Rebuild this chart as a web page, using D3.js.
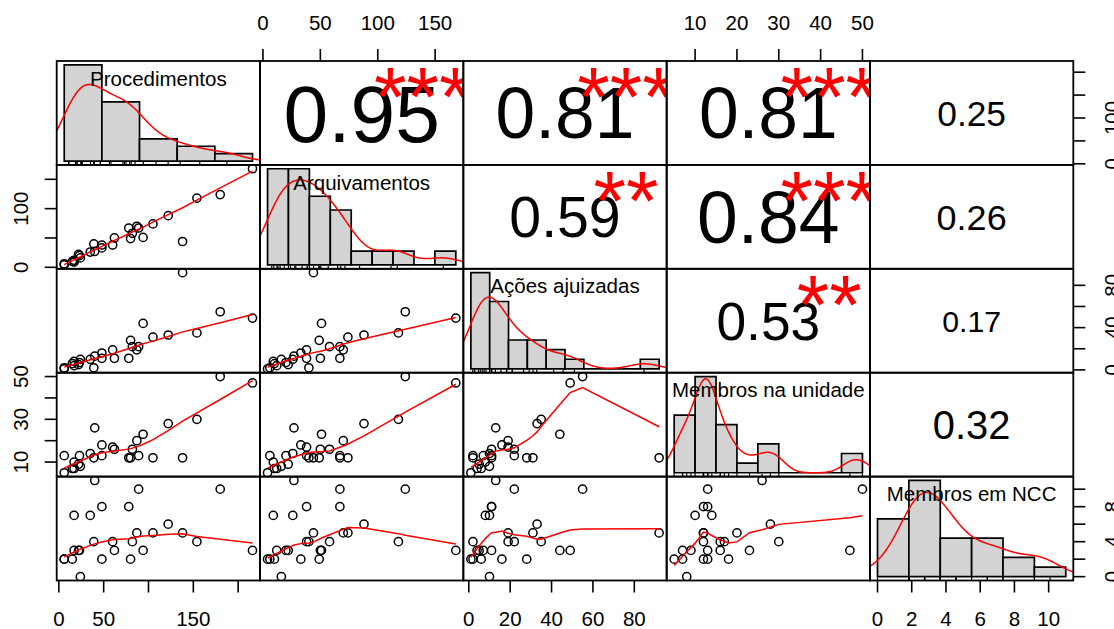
<!DOCTYPE html>
<html>
<head>
<meta charset="utf-8">
<script src="https://cdn.jsdelivr.net/npm/d3@7"></script>
<style>
  body { margin: 0; background: #fff; }
  svg { display: block; }
  text { font-family: "Liberation Sans", Arial, sans-serif; }
</style>
</head>
<body>
<svg id="chart" width="1114" height="629"></svg>
<script>
// ---- data -------------------------------------------------------------
const varNames = ["Procedimentos", "Arquivamentos", "Ações ajuizadas", "Membros na unidade", "Membros em NCC"];

const procedimentos  = [6, 6, 15, 17, 17, 23, 22, 24, 35, 39, 40, 48, 48, 60, 62, 78, 80, 82, 87, 89, 94, 105, 122, 138, 154, 180, 216];
const arquivamentos  = [4, 6, 10, 9, 12, 20, 22, 16, 26, 40, 27, 38, 33, 38, 50, 67, 49, 58, 70, 67, 51, 74, 88, 44, 118, 124, 168];
const acoesAjuizadas = [1, 2, 6, 8, 4, 7, 5, 10, 10, 2, 13, 11, 16, 19, 11, 11, 28, 22, 19, 22, 44, 31, 33, 92, 35, 55, 49];
const membrosUnidade = [5, 13, 7, 10, 7, 13, 9, 8, 14, 12, 26, 13, 18, 17, 16, 12, 12, 16, 20, 13, 23, 12, 28, 12, 30, 50, 47];
const membrosNCC     = [2, 2, 2, 7, 3, 3, 3, 0, 7, 4, 11, 8, 2, 4, 3, 8, 2, 4, 5, 10, 3, 5, 6, 5, 4, 10, 3];

// histogram break points for each variable
const procBreaks    = [0, 50, 100, 150, 200, 250];
const arqBreaks     = [0, 20, 40, 60, 80, 100, 120, 140, 160, 180];
const acoesBreaks   = [0, 10, 20, 30, 40, 50, 60, 70, 80, 90, 100];
const membrosBreaks = [5, 10, 15, 20, 25, 30, 35, 40, 45, 50];
const nccBreaks     = [0, 2, 4, 6, 8, 10, 12];

// correlation coefficients (upper panels) and significance stars
const corPairs = [[0, 1], [0, 2], [0, 3], [0, 4], [1, 2], [1, 3], [1, 4], [2, 3], [2, 4], [3, 4]];
const corR     = [0.95, 0.81, 0.81, 0.25, 0.59, 0.84, 0.26, 0.53, 0.17, 0.32];
const corStars = ["***", "***", "***", "", "**", "***", "", "**", "", ""];

// outer axes: tick values and the labels that are printed
const bottomAxes = [
  { col: 0, ticks: [0, 50, 100, 150, 200], labels: ["0", "50", "", "150", ""] },
  { col: 2, ticks: [0, 20, 40, 60, 80], labels: ["0", "20", "40", "60", "80"] },
  { col: 4, ticks: [0, 2, 4, 6, 8, 10], labels: ["0", "2", "4", "6", "8", "10"] }
];
const topAxes = [
  { col: 1, ticks: [0, 50, 100, 150], labels: ["0", "50", "100", "150"] },
  { col: 3, ticks: [10, 20, 30, 40, 50], labels: ["10", "20", "30", "40", "50"] }
];
const leftAxes = [
  { row: 1, ticks: [0, 50, 100, 150], labels: ["0", "", "100", ""] },
  { row: 3, ticks: [10, 20, 30, 40, 50], labels: ["10", "", "30", "", "50"] }
];
const rightAxes = [
  { row: 0, ticks: [0, 50, 100, 150, 200], labels: ["0", "", "100", "", ""] },
  { row: 2, ticks: [0, 20, 40, 60, 80], labels: ["0", "", "40", "", "80"] },
  { row: 4, ticks: [0, 2, 4, 6, 8, 10], labels: ["0", "", "4", "", "8", ""] }
];

const vars = [procedimentos, arquivamentos, acoesAjuizadas, membrosUnidade, membrosNCC];
const breaks = [procBreaks, arqBreaks, acoesBreaks, membrosBreaks, nccBreaks];

// ---- layout -----------------------------------------------------------
const nv = vars.length;
const gridL = 56.7, gridR = 1073.3, gridT = 61, gridB = 580.5;
const cellW = (gridR - gridL) / nv, cellH = (gridB - gridT) / nv;
const axisFont = 20.5, labelFont = 20.5, tickLen = 12, labelGap = 31;

const svg = d3.select("#chart");
const defs = svg.append("defs");

function padded(ext) { const d = ext[1] - ext[0]; return [ext[0] - 0.04 * d, ext[1] + 0.04 * d]; }

const xScales = vars.map((v, j) => d3.scaleLinear().domain(padded(d3.extent(v))).range([gridL + j * cellW, gridL + (j + 1) * cellW]));
const yScales = vars.map((v, i) => d3.scaleLinear().domain(padded(d3.extent(v))).range([gridT + (i + 1) * cellH, gridT + i * cellH]));

// ---- helpers: lowess smoother and gaussian kernel density --------------
function lowess(xIn, yIn, f = 2 / 3, iter = 3) {
  const order = d3.range(xIn.length).sort((a, b) => xIn[a] - xIn[b] || a - b);
  const n = order.length;
  const x = [0].concat(order.map(k => xIn[k]));
  const y = [0].concat(order.map(k => yIn[k]));
  const ys = new Array(n + 1).fill(0), rw = new Array(n + 1).fill(0), w = new Array(n + 1).fill(0);
  const delta = 0.01 * (x[n] - x[1]);
  const ns = Math.max(2, Math.min(n, Math.floor(f * n + 1e-7)));
  const range = x[n] - x[1];

  function lowest(xs, nleft, nright, userw) {
    const h = Math.max(xs - x[nleft], x[nright] - xs);
    const h9 = 0.999 * h, h1 = 0.001 * h;
    let a = 0, j = nleft;
    while (j <= n) {
      w[j] = 0;
      const r = Math.abs(x[j] - xs);
      if (r <= h9) {
        w[j] = r <= h1 ? 1 : Math.pow(1 - Math.pow(r / h, 3), 3);
        if (userw) w[j] *= rw[j];
        a += w[j];
      } else if (x[j] > xs) break;
      j++;
    }
    const nrt = j - 1;
    if (a <= 0) return null;
    for (j = nleft; j <= nrt; j++) w[j] /= a;
    if (h > 0) {
      a = 0;
      for (j = nleft; j <= nrt; j++) a += w[j] * x[j];
      let b = xs - a, c = 0;
      for (j = nleft; j <= nrt; j++) c += w[j] * (x[j] - a) * (x[j] - a);
      if (Math.sqrt(c) > 0.001 * range) {
        b /= c;
        for (j = nleft; j <= nrt; j++) w[j] *= (b * (x[j] - a) + 1);
      }
    }
    let s = 0;
    for (j = nleft; j <= nrt; j++) s += w[j] * y[j];
    return s;
  }

  let iiter = 1;
  while (iiter <= iter + 1) {
    let nleft = 1, nright = ns, last = 0, i = 1;
    for (;;) {
      if (nright < n) {
        const d1 = x[i] - x[nleft], d2 = x[nright + 1] - x[i];
        if (d1 > d2) { nleft++; nright++; continue; }
      }
      const v = lowest(x[i], nleft, nright, iiter > 1);
      ys[i] = v === null ? y[i] : v;
      if (last < i - 1) {
        const denom = x[i] - x[last];
        for (let j = last + 1; j < i; j++) {
          const alpha = (x[j] - x[last]) / denom;
          ys[j] = alpha * ys[i] + (1 - alpha) * ys[last];
        }
      }
      last = i;
      const cut = x[last] + delta;
      for (i = last + 1; i <= n; i++) {
        if (x[i] > cut) break;
        if (x[i] === x[last]) { ys[i] = ys[last]; last = i; }
      }
      i = Math.max(last + 1, i - 1);
      if (last >= n) break;
    }
    const res = d3.range(1, n + 1).map(k => y[k] - ys[k]);
    const sc = d3.sum(res, Math.abs) / n;
    if (iiter > iter) break;
    const absr = res.map(Math.abs);
    const srt = absr.slice().sort((a, b) => a - b);
    const m1 = Math.floor(n / 2);
    const cmad = n % 2 === 0 ? 3 * (srt[m1] + srt[m1 - 1]) : 6 * srt[m1];
    if (cmad < 1e-7 * sc) break;
    const c9 = 0.999 * cmad, c1 = 0.001 * cmad;
    for (let k = 1; k <= n; k++) {
      const r = absr[k - 1];
      rw[k] = r <= c1 ? 1 : (r <= c9 ? Math.pow(1 - Math.pow(r / cmad, 2), 2) : 0);
    }
    iiter++;
  }
  return d3.range(1, n + 1).map(k => [x[k], ys[k]]);
}

function kde(values) {
  const n = values.length;
  const srt = values.slice().sort((a, b) => a - b);
  const sd = d3.deviation(values);
  const iqr = d3.quantileSorted(srt, 0.75) - d3.quantileSorted(srt, 0.25);
  let lo = Math.min(sd, iqr / 1.34);
  if (!lo) lo = sd || Math.abs(srt[0]) || 1;
  const bw = 0.9 * lo * Math.pow(n, -0.2);
  const from = srt[0] - 3 * bw, to = srt[n - 1] + 3 * bw;
  const k0 = 1 / (n * bw * Math.sqrt(2 * Math.PI));
  return d3.range(512).map(k => {
    const xv = from + k * (to - from) / 511;
    return [xv, k0 * d3.sum(values, v => Math.exp(-0.5 * ((xv - v) / bw) ** 2))];
  });
}

// ---- panels -------------------------------------------------------------
const panels = svg.append("g");

for (let i = 0; i < nv; i++) {
  for (let j = 0; j < nv; j++) {
    const x0 = gridL + j * cellW, y0 = gridT + i * cellH;
    const clipId = `clip-${i}-${j}`;
    defs.append("clipPath").attr("id", clipId)
      .append("rect").attr("x", x0).attr("y", y0).attr("width", cellW).attr("height", cellH);
    const g = panels.append("g").attr("clip-path", `url(#${clipId})`);

    if (i > j) {
      // lower panel: scatter with lowess smoother
      const xs = xScales[j], ysc = yScales[i];
      const pts = vars[j].map((v, k) => [v, vars[i][k]]);
      g.selectAll("circle").data(pts).join("circle")
        .attr("cx", d => xs(d[0])).attr("cy", d => ysc(d[1])).attr("r", 4.1)
        .attr("fill", "none").attr("stroke", "#000").attr("stroke-width", 1.5);
      const sm = lowess(vars[j], vars[i]);
      g.append("path").datum(sm)
        .attr("d", d3.line().x(d => xs(d[0])).y(d => ysc(d[1])))
        .attr("fill", "none").attr("stroke", "#ff0000").attr("stroke-width", 1.5);
    } else if (i < j) {
      // upper panel: correlation coefficient and significance
      const idx = corPairs.findIndex(p => p[0] === i && p[1] === j);
      const r = corR[idx];
      const txt = r.toFixed(2);
      const probe = g.append("text").attr("font-size", 100).text(txt);
      const wFull = probe.node().getComputedTextLength();
      probe.remove();
      const cex = 0.8 * cellW / wFull * 100;
      const fsR = cex * (Math.abs(r) + 0.3) / 1.3;
      g.append("text")
        .attr("x", x0 + cellW / 2).attr("y", y0 + cellH / 2 + 0.358 * fsR)
        .attr("text-anchor", "middle").attr("font-size", fsR).attr("fill", "#000")
        .text(txt);
      if (corStars[idx]) {
        g.append("text")
          .attr("x", x0 + 0.8 * cellW).attr("y", y0 + 0.2 * cellH + 0.53 * cex)
          .attr("text-anchor", "middle").attr("font-size", cex).attr("fill", "#ff0000")
          .text(corStars[idx]);
      }
    } else {
      // diagonal: histogram, density curve, rug and variable name
      const br = breaks[i], v = vars[i], n = v.length;
      const counts = br.slice(0, -1).map((b, k) => v.filter(d => (k === 0 ? d >= b : d > b) && d <= br[k + 1]).length);
      const dens = counts.map((c, k) => c / (n * (br[k + 1] - br[k])));
      const hx = d3.scaleLinear().domain(padded([br[0], br[br.length - 1]])).range([x0, x0 + cellW]);
      const hy = d3.scaleLinear().domain(padded([0, d3.max(dens)])).range([y0 + cellH, y0]);
      g.selectAll("path.bar").data(dens).join("path").attr("class", "bar")
        .attr("d", (d, k) => `M${hx(br[k])},${hy(0)}V${hy(d)}H${hx(br[k + 1])}V${hy(0)}Z`)
        .attr("fill", "#d3d3d3").attr("stroke", "#000").attr("stroke-width", 1.7);
      g.append("path").datum(kde(v))
        .attr("d", d3.line().x(d => hx(d[0])).y(d => hy(d[1])))
        .attr("fill", "none").attr("stroke", "#ff0000").attr("stroke-width", 1.5);
      g.selectAll("line.rug").data(v).join("line").attr("class", "rug")
        .attr("x1", d => hx(d)).attr("x2", d => hx(d))
        .attr("y1", y0 + cellH).attr("y2", y0 + cellH - 0.03 * cellH)
        .attr("stroke", "#000").attr("stroke-width", 1.2);
      svg.append("text")
        .attr("x", x0 + cellW / 2).attr("y", y0 + (1 - 0.8333) * cellH + 0.358 * labelFont)
        .attr("text-anchor", "middle").attr("font-size", labelFont).attr("fill", "#000")
        .text(varNames[i]);
    }
    // panel frame
    svg.append("rect").attr("x", x0).attr("y", y0).attr("width", cellW).attr("height", cellH)
      .attr("fill", "none").attr("stroke", "#000").attr("stroke-width", 1.8);
  }
}

// ---- outer axes -----------------------------------------------------------
const axes = svg.append("g").attr("font-size", axisFont);
const cap = 0.716 * axisFont;

bottomAxes.forEach(a => {
  const s = xScales[a.col];
  a.ticks.forEach((t, k) => {
    axes.append("line").attr("x1", s(t)).attr("x2", s(t)).attr("y1", gridB).attr("y2", gridB + tickLen)
      .attr("stroke", "#000").attr("stroke-width", 1.6);
    if (a.labels[k]) axes.append("text").attr("x", s(t)).attr("y", gridB + labelGap + cap)
      .attr("text-anchor", "middle").text(a.labels[k]);
  });
});
topAxes.forEach(a => {
  const s = xScales[a.col];
  a.ticks.forEach((t, k) => {
    axes.append("line").attr("x1", s(t)).attr("x2", s(t)).attr("y1", gridT).attr("y2", gridT - tickLen)
      .attr("stroke", "#000").attr("stroke-width", 1.6);
    if (a.labels[k]) axes.append("text").attr("x", s(t)).attr("y", gridT - labelGap)
      .attr("text-anchor", "middle").text(a.labels[k]);
  });
});
leftAxes.forEach(a => {
  const s = yScales[a.row];
  a.ticks.forEach((t, k) => {
    axes.append("line").attr("x1", gridL).attr("x2", gridL - tickLen).attr("y1", s(t)).attr("y2", s(t))
      .attr("stroke", "#000").attr("stroke-width", 1.6);
    if (a.labels[k]) axes.append("text")
      .attr("transform", `translate(${gridL - labelGap + 2},${s(t)}) rotate(-90)`)
      .attr("text-anchor", "middle").text(a.labels[k]);
  });
});
rightAxes.forEach(a => {
  const s = yScales[a.row];
  a.ticks.forEach((t, k) => {
    axes.append("line").attr("x1", gridR).attr("x2", gridR + tickLen).attr("y1", s(t)).attr("y2", s(t))
      .attr("stroke", "#000").attr("stroke-width", 1.6);
    if (a.labels[k]) axes.append("text")
      .attr("transform", `translate(${gridR + labelGap + cap},${s(t)}) rotate(-90)`)
      .attr("text-anchor", "middle").text(a.labels[k]);
  });
});
</script>
</body>
</html>
